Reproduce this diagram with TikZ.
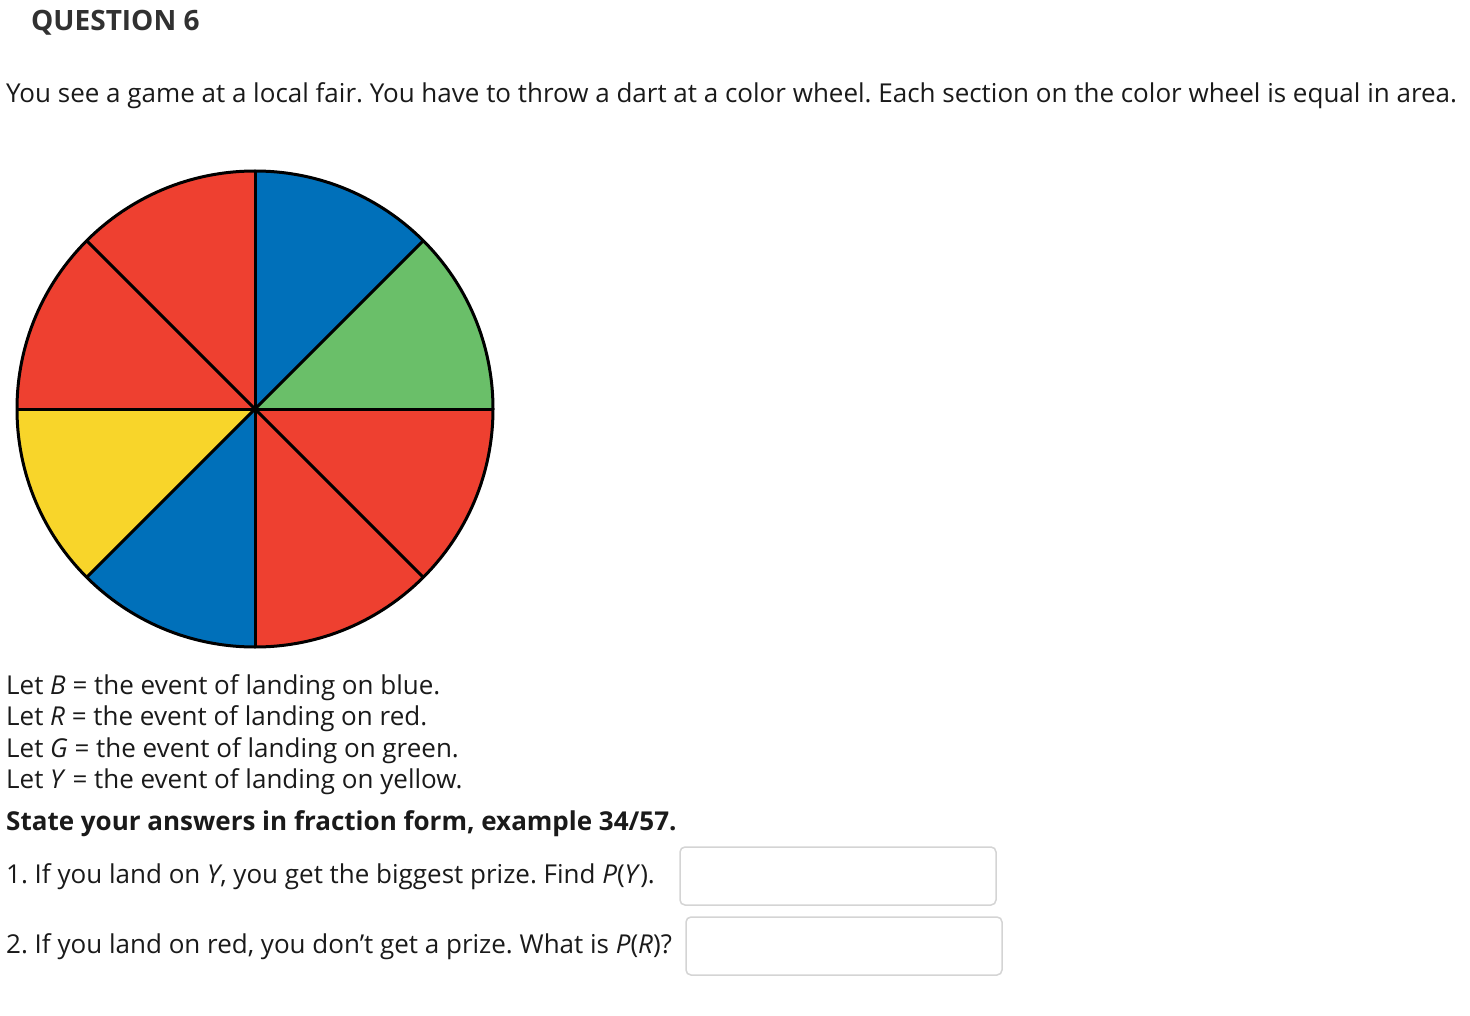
\documentclass[tikz,border=0pt]{standalone}
\usepackage{fontspec}
\setmainfont{Open Sans}
\frenchspacing
\definecolor{wred}{HTML}{EE4030}
\definecolor{wblue}{HTML}{0070BA}
\definecolor{wgreen}{HTML}{6ABF69}
\definecolor{wyellow}{HTML}{F8D52A}
\definecolor{txt}{HTML}{1A1A1A}
\definecolor{boxline}{HTML}{D4D4D4}
\begin{document}
\begin{tikzpicture}[x=1pt,y=-1pt,
  body/.style={anchor=base west, inner sep=0pt, text=txt, font=\fontsize{26}{30}\selectfont},
  bodyb/.style={body, font=\fontsize{26}{30}\selectfont\bfseries},
  ansbox/.style={draw=boxline, line width=1.5pt, rounded corners=5pt, fill=white}]
\useasboundingbox[fill=white] (0,0) rectangle (1470,1016);

\node[anchor=base west, inner sep=0pt, text=txt!90!white, font=\fontsize{28}{32}\selectfont\bfseries] (title) at (31,31) {QUESTION 6};
\node[body] (intro) at (6,103) {You see a game at a local fair. You have to throw a dart at a color wheel. Each section on the color wheel is equal in area.};

\begin{scope}[shift={(255,409)}, x=1pt, y=1pt]
  \coordinate (c) at (0,0);
  \def\R{238}
  \fill[wgreen]  (c) -- (0:\R)   arc (0:45:\R)    -- cycle;
  \fill[wblue]   (c) -- (45:\R)  arc (45:90:\R)   -- cycle;
  \fill[wred]    (c) -- (90:\R)  arc (90:180:\R)  -- cycle;
  \fill[wyellow] (c) -- (180:\R) arc (180:225:\R) -- cycle;
  \fill[wblue]   (c) -- (225:\R) arc (225:270:\R) -- cycle;
  \fill[wred]    (c) -- (270:\R) arc (270:360:\R) -- cycle;
  \foreach \a in {0,45,...,315} {
    \coordinate (p\a) at (\a:\R);
    \draw[line width=3pt] (c) -- (p\a);
  }
  \draw[line width=3pt] (c) circle (\R);
  \fill (c) circle (3pt);
\end{scope}

\node[body] (lb) at (6,694) {Let \textit{B} = the event of landing on blue.};
\node[body] (lr) at (6,725) {Let \textit{R} = the event of landing on red.};
\node[body] (lg) at (6,757) {Let \textit{G} = the event of landing on green.};
\node[body] (ly) at (6,788) {Let \textit{Y} = the event of landing on yellow.};
\node[bodyb] (state) at (6,830) {State your answers in fraction form, example 34/57.};
\node[body] (q1) at (6,883) {1. If you land on \textit{Y}, you get the biggest prize. Find \textit{P}(\textit{Y}).};
\node[body] (q2) at (6,953) {2. If you land on red, you don’t get a prize. What is \textit{P}(\textit{R})?};

\draw[ansbox] (680,847) rectangle (996,905) node[midway, inner sep=0pt] (a1) {};
\draw[ansbox] (686,917) rectangle (1002,975) node[midway, inner sep=0pt] (a2) {};
\end{tikzpicture}
\end{document}
